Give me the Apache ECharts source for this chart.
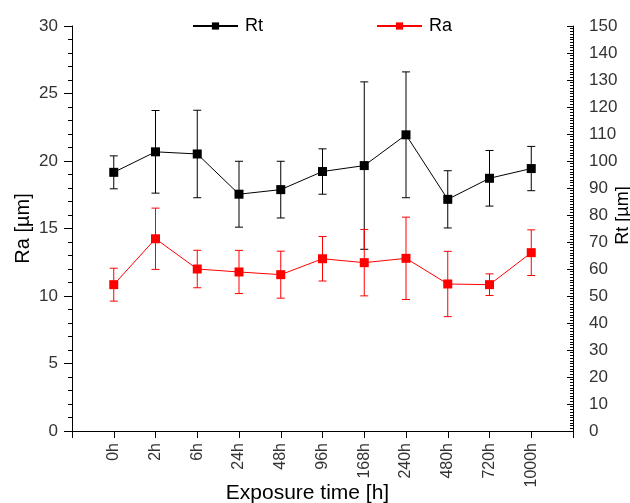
<!DOCTYPE html>
<html>
<head>
<meta charset="utf-8">
<script src="https://cdn.jsdelivr.net/npm/echarts@6/dist/echarts.min.js"></script>
<style>
  html, body { margin: 0; padding: 0; background: #fff; overflow: hidden; }
  #chart { width: 630px; height: 503px; }
</style>
</head>
<body>
<div id="chart"></div>
<script>
// Exposure times (categories along the bottom axis)
const categories = ['0h', '2h', '6h', '24h', '48h', '96h', '168h', '240h', '480h', '720h', '1000h'];

// Rt (right axis, µm): mean and standard deviation
const rtMean = [95.8, 103.4, 102.6, 87.7, 89.4, 96.1, 98.3, 109.7, 85.8, 93.6, 97.2];
const rtSd   = [6.1, 15.3, 16.2, 12.2, 10.5, 8.4, 31.0, 23.3, 10.6, 10.3, 8.2];

// Ra (left axis, µm): mean and standard deviation
const raMean = [10.84, 14.24, 12.00, 11.78, 11.58, 12.76, 12.47, 12.79, 10.89, 10.84, 13.21];
const raSd   = [1.22, 2.27, 1.39, 1.60, 1.74, 1.65, 2.46, 3.05, 2.42, 0.80, 1.69];

// Axis ranges and tick steps
const raAxis = { min: 0, max: 30, interval: 5 };
const rtAxis = { min: 0, max: 150, interval: 10 };

const FONT = 'Liberation Sans, Arial, sans-serif';

// category i sits at x = i + 1 on a 0..12 axis
const pos = i => i + 1;

function lineData(values) {
  return values.map((v, i) => [pos(i), v]);
}

function errorBarSeries(name, mean, sd, yAxisIndex, color) {
  return {
    name: name,
    type: 'custom',
    yAxisIndex: yAxisIndex,
    silent: true,
    z: 1,
    data: mean.map((m, i) => [pos(i), m - sd[i], m + sd[i]]),
    encode: { x: 0, y: [1, 2] },
    renderItem: function (params, api) {
      const x = api.value(0);
      const lo = api.coord([x, api.value(1)]);
      const hi = api.coord([x, api.value(2)]);
      const half = 4;
      const style = { stroke: color, lineWidth: 1 };
      return {
        type: 'group',
        children: [
          { type: 'line', shape: { x1: lo[0], y1: lo[1], x2: hi[0], y2: hi[1] }, style: style },
          { type: 'line', shape: { x1: hi[0] - half, y1: hi[1], x2: hi[0] + half, y2: hi[1] }, style: style },
          { type: 'line', shape: { x1: lo[0] - half, y1: lo[1], x2: lo[0] + half, y2: lo[1] }, style: style }
        ]
      };
    }
  };
}

const legendBase = {
  top: 17,
  padding: 0,
  itemWidth: 45,
  itemHeight: 9,
  textStyle: { fontSize: 18, color: '#000', fontFamily: FONT, padding: [0, 0, 0, 2] }
};

const chart = echarts.init(document.getElementById('chart'), null, { renderer: 'canvas' });

chart.setOption({
  backgroundColor: '#fff',
  animation: false,
  textStyle: { fontFamily: FONT },
  grid: { left: 72, right: 57, top: 26, bottom: 72, containLabel: false, outerBoundsMode: 'none' },
  legend: [
    Object.assign({ data: ['Rt'], left: 192 }, legendBase),
    Object.assign({ data: ['Ra'], left: 376 }, legendBase)
  ],
  xAxis: {
    type: 'value',
    min: 0,
    max: 12,
    interval: 1,
    name: 'Exposure time [h]',
    nameLocation: 'middle',
    nameGap: 52,
    nameMoveOverlap: false,
    nameTextStyle: { fontSize: 21, color: '#000', fontFamily: FONT, padding: [0, 30, 0, 0] },
    axisLine: { show: true, onZero: false, lineStyle: { color: '#000', width: 1 } },
    axisTick: { show: true, length: 7, lineStyle: { color: '#000' } },
    splitLine: { show: false },
    axisLabel: {
      rotate: 90,
      fontSize: 16,
      color: '#333',
      margin: 12,
      fontFamily: FONT,
      formatter: v => categories[v - 1] || ''
    }
  },
  yAxis: [
    {
      type: 'value',
      position: 'left',
      min: raAxis.min,
      max: raAxis.max,
      interval: raAxis.interval,
      name: 'Ra [\u00b5m]',
      nameLocation: 'middle',
      nameGap: 39,
      nameRotate: 90,
      nameMoveOverlap: false,
      nameTextStyle: { fontSize: 20, color: '#000', fontFamily: FONT },
      axisLine: { show: true, onZero: false, lineStyle: { color: '#000', width: 1 } },
      axisTick: { show: true, length: 8, lineStyle: { color: '#000' } },
      minorTick: { show: true, splitNumber: 5, length: 4, lineStyle: { color: '#000' } },
      splitLine: { show: false },
      axisLabel: { fontSize: 17, color: '#333', margin: 14, fontFamily: FONT }
    },
    {
      type: 'value',
      position: 'right',
      min: rtAxis.min,
      max: rtAxis.max,
      interval: rtAxis.interval,
      name: 'Rt [\u00b5m]',
      nameLocation: 'middle',
      nameGap: 41,
      nameRotate: 90,
      nameMoveOverlap: false,
      nameTextStyle: { fontSize: 18, color: '#000', fontFamily: FONT, padding: [0, 0, 0, 26] },
      axisLine: { show: true, onZero: false, lineStyle: { color: '#000', width: 1 } },
      axisTick: { show: true, inside: true, length: 6, lineStyle: { color: '#000' } },
      minorTick: { show: true, splitNumber: 10, length: 3, lineStyle: { color: '#000' } },
      splitLine: { show: false },
      axisLabel: { fontSize: 17, color: '#333', margin: 16, fontFamily: FONT }
    }
  ],
  series: [
    errorBarSeries('Rt SD', rtMean, rtSd, 1, '#000'),
    errorBarSeries('Ra SD', raMean, raSd, 0, '#ff0000'),
    {
      name: 'Rt',
      type: 'line',
      yAxisIndex: 1,
      data: lineData(rtMean),
      symbol: 'rect',
      symbolSize: 9,
      z: 3,
      itemStyle: { color: '#000' },
      lineStyle: { color: '#000', width: 1 }
    },
    {
      name: 'Ra',
      type: 'line',
      yAxisIndex: 0,
      data: lineData(raMean),
      symbol: 'rect',
      symbolSize: 9,
      z: 3,
      itemStyle: { color: '#ff0000' },
      lineStyle: { color: '#ff0000', width: 1 }
    }
  ]
});
</script>
</body>
</html>
